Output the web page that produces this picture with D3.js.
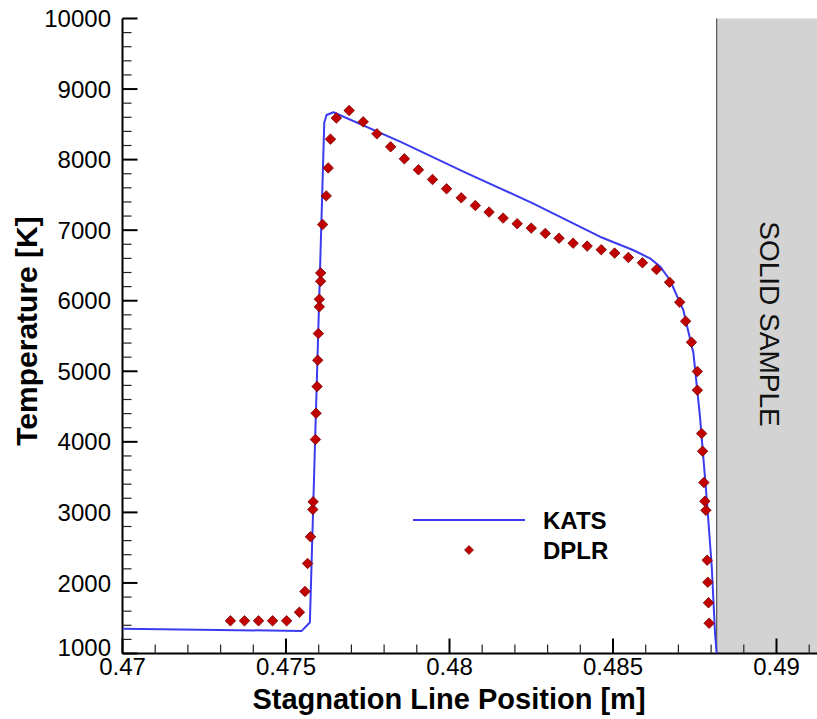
<!DOCTYPE html>
<html>
<head>
<meta charset="utf-8">
<script src="https://cdn.jsdelivr.net/npm/d3@7"></script>
<style>
  html, body { margin: 0; padding: 0; background: #fff; }
  svg { display: block; font-family: "Liberation Sans", Arial, Helvetica, sans-serif; }
</style>
</head>
<body>
<svg id="chart" width="817" height="719"></svg>
<script>
// ---- Data ----
const katsX = [0.47000, 0.47548, 0.47573, 0.47617, 0.47624, 0.47645, 0.47849, 0.48054, 0.48255, 0.48460, 0.48561, 0.48613, 0.48645, 0.48674, 0.48715, 0.48746, 0.48766, 0.48787, 0.48802, 0.48812, 0.48817];
const katsT = [1350, 1320, 1440, 8523, 8632, 8671, 8254, 7806, 7381, 6907, 6719, 6601, 6480, 6294, 5868, 5255, 4356, 3176, 2230, 1286, 1000];

const dplrX = [0.47330, 0.47373, 0.47416, 0.47459, 0.47502, 0.47541, 0.47558, 0.47566, 0.47575, 0.47582,
               0.47583, 0.47590, 0.47592, 0.47595, 0.47597, 0.47599, 0.47602, 0.47602, 0.47606, 0.47606,
               0.47612, 0.47623, 0.47629, 0.47636, 0.47654, 0.47693, 0.47736, 0.47778, 0.47820, 0.47862,
               0.47905, 0.47948, 0.47991, 0.48036, 0.48079, 0.48121, 0.48164, 0.48207, 0.48250, 0.48293,
               0.48335, 0.48378, 0.48421, 0.48464, 0.48505, 0.48547, 0.48590, 0.48633, 0.48673, 0.48704,
               0.48722, 0.48740, 0.48758, 0.48758, 0.48771, 0.48774, 0.48778, 0.48781, 0.48784, 0.48788,
               0.48790, 0.48792, 0.48794];
const dplrT = [1463, 1463, 1463, 1463, 1463, 1585, 1880, 2276, 2654, 3041,
               3150, 4033, 4405, 4784, 5157, 5535, 5913, 6021, 6276, 6394,
               7080, 7486, 7882, 8290, 8589, 8696, 8535, 8365, 8181, 8011,
               7855, 7718, 7586, 7458, 7349, 7256, 7171, 7091, 7029, 6954,
               6887, 6816, 6774, 6723, 6675, 6613, 6537, 6442, 6262, 5979,
               5710, 5412, 4997, 4732, 4118, 3867, 3423, 3158, 3030, 2322,
               2010, 1718, 1429];

const sampleStart = 0.48817;
const xMajorTicks = [0.47, 0.475, 0.48, 0.485, 0.49];
const xTickLabels = ["0.47", "0.475", "0.48", "0.485", "0.49"];
const yMajorTicks = [1000, 2000, 3000, 4000, 5000, 6000, 7000, 8000, 9000, 10000];
const seriesNames = ["KATS", "DPLR"];

// ---- Layout ----
const W = 817, H = 719;
const x0px = 122.5, pxPerUnit = 32700;
const xDomain = [0.47, 0.4915];
const x = d3.scaleLinear().domain(xDomain).range([x0px, x0px + (xDomain[1] - xDomain[0]) * pxPerUnit]);
const y = d3.scaleLinear().domain([1000, 10000]).range([653.5, 18.5]);

const svg = d3.select("#chart");
svg.append("rect").attr("width", W).attr("height", H).attr("fill", "#fff");

svg.append("defs").append("clipPath").attr("id", "plotclip")
  .append("rect").attr("x", x0px).attr("y", y(10000)).attr("width", W - x0px).attr("height", y(1000) - y(10000));

// solid sample region
svg.append("rect")
  .attr("x", x(sampleStart)).attr("y", y(10000))
  .attr("width", W - x(sampleStart)).attr("height", y(1000) - y(10000))
  .attr("fill", "#d3d3d3");
svg.append("line")
  .attr("x1", x(sampleStart)).attr("x2", x(sampleStart))
  .attr("y1", y(10000)).attr("y2", y(1000))
  .attr("stroke", "#555").attr("stroke-width", 1.2);
svg.append("text")
  .attr("transform", `translate(${769},${324}) rotate(90)`)
  .attr("text-anchor", "middle").attr("dominant-baseline", "central")
  .attr("font-size", 28).attr("fill", "#111")
  .text("SOLID SAMPLE");

// ---- Axes ----
const xMinor = d3.range(0, 22).map(i => +(0.47 + i * 0.001).toFixed(3)).filter(v => !xMajorTicks.some(m => Math.abs(m - v) < 1e-9));
const yMinor = d3.range(1000, 10001, 200).filter(v => v % 1000 !== 0);

const axisG = svg.append("g");
axisG.append("line").attr("x1", x0px).attr("x2", W).attr("y1", y(1000)).attr("y2", y(1000))
  .attr("stroke", "#000").attr("stroke-width", 2);
axisG.append("line").attr("x1", x0px).attr("x2", x0px).attr("y1", y(1000)).attr("y2", y(10000))
  .attr("stroke", "#000").attr("stroke-width", 2);

axisG.selectAll(".xmaj").data(xMajorTicks).join("line")
  .attr("x1", d => x(d)).attr("x2", d => x(d)).attr("y1", y(1000)).attr("y2", y(1000) - 15)
  .attr("stroke", "#000").attr("stroke-width", 2);
axisG.selectAll(".xmin").data(xMinor).join("line")
  .attr("x1", d => x(d)).attr("x2", d => x(d)).attr("y1", y(1000)).attr("y2", y(1000) - 9)
  .attr("stroke", "#222").attr("stroke-width", 1.2);
axisG.selectAll(".ymaj").data(yMajorTicks).join("line")
  .attr("x1", x0px).attr("x2", x0px + 15).attr("y1", d => y(d)).attr("y2", d => y(d))
  .attr("stroke", "#000").attr("stroke-width", 2);
axisG.selectAll(".ymin").data(yMinor).join("line")
  .attr("x1", x0px).attr("x2", x0px + 9).attr("y1", d => y(d)).attr("y2", d => y(d))
  .attr("stroke", "#222").attr("stroke-width", 1.2);

axisG.selectAll(".xlab").data(xMajorTicks).join("text")
  .attr("x", d => x(d)).attr("y", 675)
  .attr("text-anchor", "middle").attr("font-size", 24).attr("fill", "#000")
  .text((d, i) => xTickLabels[i]);
axisG.selectAll(".ylab").data(yMajorTicks).join("text")
  .attr("x", 111).attr("y", d => y(d)).attr("dy", d => d === 1000 ? "0.1em" : "0.36em")
  .attr("text-anchor", "end").attr("font-size", 24).attr("fill", "#000")
  .text(d => d3.format("d")(d));

// axis titles
svg.append("text").attr("x", 449).attr("y", 709)
  .attr("text-anchor", "middle").attr("font-size", 29).attr("font-weight", "bold")
  .text("Stagnation Line Position [m]");
svg.append("text").attr("transform", "translate(37,331) rotate(-90)")
  .attr("text-anchor", "middle").attr("font-size", 30).attr("font-weight", "bold")
  .text("Temperature [K]");

// ---- Data marks ----
const plot = svg.append("g").attr("clip-path", "url(#plotclip)");
const katsData = katsX.map((v, i) => [v, katsT[i]]);
plot.append("path").datum(katsData)
  .attr("d", d3.line().x(d => x(d[0])).y(d => y(d[1])))
  .attr("fill", "none").attr("stroke", "#3b3bf0").attr("stroke-width", 2).attr("stroke-linejoin", "round");

const dplrData = dplrX.map((v, i) => [v, dplrT[i]]);
const diamond = d3.symbol().type(d3.symbolDiamond2).size(70);
plot.selectAll(".dp").data(dplrData).join("path")
  .attr("transform", d => `translate(${x(d[0])},${y(d[1])})`)
  .attr("d", diamond)
  .attr("fill", "#c20000").attr("stroke", "#7a0000").attr("stroke-width", 0.8);

// ---- Legend ----
const lg = svg.append("g");
lg.append("line").attr("x1", 413).attr("x2", 525).attr("y1", 520).attr("y2", 520)
  .attr("stroke", "#3b3bf0").attr("stroke-width", 2);
lg.append("path").attr("transform", "translate(469,550)").attr("d", d3.symbol().type(d3.symbolDiamond2).size(50))
  .attr("fill", "#c20000").attr("stroke", "#7a0000").attr("stroke-width", 0.8);
lg.selectAll(".lt").data(seriesNames).join("text")
  .attr("x", 543).attr("y", (d, i) => 520 + i * 30).attr("dy", "0.36em")
  .attr("font-size", 24).attr("font-weight", "bold").text(d => d);
</script>
</body>
</html>
